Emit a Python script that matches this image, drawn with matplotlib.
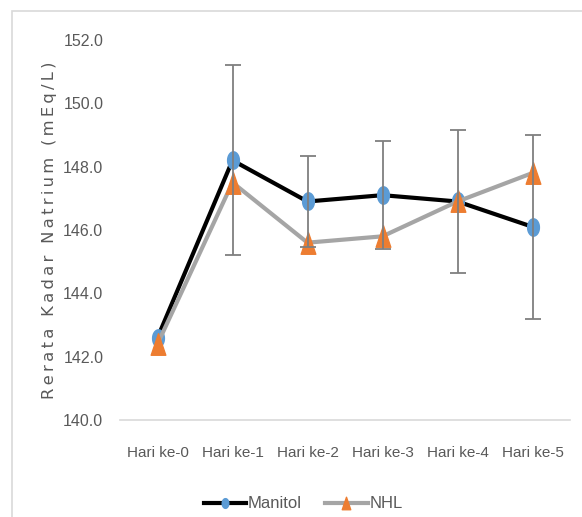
import matplotlib
matplotlib.use("Agg")
import matplotlib.pyplot as plt
from matplotlib.patches import Rectangle
from matplotlib.lines import Line2D
from matplotlib.path import Path
import numpy as np

categories = ["Hari ke-0", "Hari ke-1", "Hari ke-2", "Hari ke-3", "Hari ke-4", "Hari ke-5"]
manitol = [142.6, 148.2, 146.9, 147.1, 146.9, 146.1]
manitol_err = [0.0, 3.0, 1.45, 1.7, 2.25, 2.9]
nhl = [142.4, 147.5, 145.6, 145.8, 146.9, 147.8]
yticks = [140.0, 142.0, 144.0, 146.0, 148.0, 150.0, 152.0]

W, H = 582, 517
fig = plt.figure(figsize=(W / 100, H / 100), dpi=100)
fig.patch.set_facecolor("white")

# elongated marker shapes (the reference image is vertically stretched)
t = np.linspace(0, 2 * np.pi, 40)
ellipse = Path(np.column_stack([0.68 * np.cos(t), np.sin(t)]), closed=True)
tri = Path([(-0.68, -1), (0.68, -1), (0, 1), (-0.68, -1)], closed=True)

# outer chart border (cropped on right/bottom)
fig.patches.append(Rectangle((12 / W, -0.1), 1.2, 1 - 11 / H + 0.1, transform=fig.transFigure,
                             fill=False, edgecolor="#D9D9D9", linewidth=1.2))

narrow = ["Liberation Sans Narrow", "Liberation Sans", "DejaVu Sans"]
ax = fig.add_axes([120 / W, 1 - 420 / H, 450 / W, 380 / H])
x = list(range(len(categories)))

ax.plot(x, manitol, color="black", linewidth=3.0, marker=ellipse, markersize=12.5,
        markerfacecolor="#5B9BD5", markeredgecolor="#5B9BD5", zorder=3)
ax.plot(x, nhl, color="#A5A5A5", linewidth=3.0, marker=tri, markersize=15.5,
        markerfacecolor="#ED7D31", markeredgecolor="#ED7D31", zorder=4)
ei = [i for i, e in enumerate(manitol_err) if e > 0]
ax.errorbar([x[i] for i in ei], [manitol[i] for i in ei], yerr=[manitol_err[i] for i in ei],
            fmt="none", ecolor="#7F7F7F", elinewidth=1.3, capsize=6, capthick=1.3, zorder=5)

ax.set_xlim(-0.5, len(categories) - 0.5)
ax.set_ylim(140, 152)
ax.set_yticks(yticks)
ax.set_yticklabels([f"{v:.1f}" for v in yticks], family=narrow, fontsize=11.5, color="#595959")
ax.set_xticks(x)
ax.set_xticklabels(categories, family=narrow, fontsize=11, color="#595959")
ax.tick_params(axis="both", length=0)
ax.tick_params(axis="y", pad=12)
ax.tick_params(axis="x", pad=19)
for s in ["top", "right", "left"]:
    ax.spines[s].set_visible(False)
ax.spines["bottom"].set_color("#D9D9D9")
ax.spines["bottom"].set_linewidth(1.2)
ax.set_facecolor("white")

ylabel = "Rerata Kadar Natrium (mEq/L)"
fig.text(50 / W, 1 - 230 / H, "\u2009".join(ylabel), rotation=90, ha="center", va="center",
         fontsize=11.8, color="#595959", family=["DejaVu Sans"])

handles = [
    Line2D([0], [0], color="black", linewidth=3.0, marker=ellipse, markersize=7,
           markerfacecolor="#5B9BD5", markeredgecolor="#5B9BD5"),
    Line2D([0], [0], color="#A5A5A5", linewidth=3.0, marker=tri, markersize=9,
           markerfacecolor="#ED7D31", markeredgecolor="#ED7D31"),
]
fig.legend(handles, ["Manitol", "NHL"], loc="center", bbox_to_anchor=(303 / W, 1 - 504 / H),
           ncol=2, frameon=False, handlelength=2.55, handletextpad=0.1, columnspacing=1.4,
           prop={"family": narrow, "size": 12}, labelcolor="#595959")

fig.savefig("out.png", dpi=100, facecolor="white")
